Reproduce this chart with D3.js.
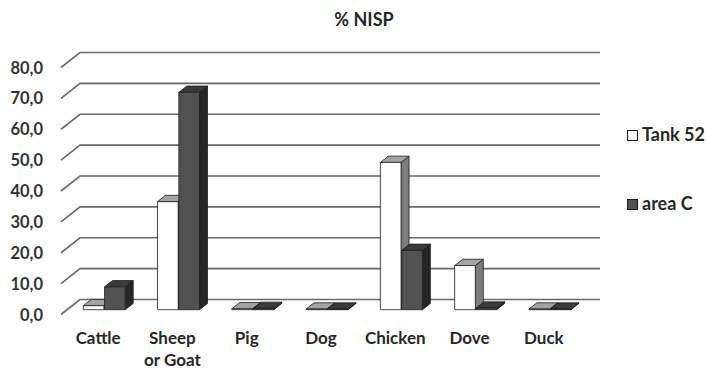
<!DOCTYPE html>
<html>
<head>
<meta charset="utf-8">
<script src="https://cdn.jsdelivr.net/npm/d3@7/dist/d3.min.js"></script>
<style>
  html, body { margin: 0; padding: 0; background: #fff; }
  svg { display: block; font-family: Lato, "Open Sans", sans-serif; font-weight: 700; }
</style>
</head>
<body>
<svg id="chart" width="706" height="374"></svg>
<script>
// Categories and values (% NISP)
const categories = ["Cattle", "Sheep\nor Goat", "Pig", "Dog", "Chicken", "Dove", "Duck"];
const seriesNames = ["Tank 52", "area C"];
const tank52 = [1.3, 35.0, 0.3, 0.2, 47.7, 14.3, 0.2];
const areaC = [7.4, 70.4, 0.4, 0.2, 19.2, 0.5, 0.2];
const yTicks = [0, 10, 20, 30, 40, 50, 60, 70, 80];
const title = "% NISP";

const svg = d3.select("#chart");

// Oblique projection: depth z in [0,1] shifts right and up
const DX = 19, DY = -15;
const x0 = d3.scaleBand().domain(d3.range(categories.length)).range([61, 581])
  .paddingInner(0.435).paddingOuter(0.2175);
const x1 = d3.scaleBand().domain(seriesNames).range([0, 42]).paddingInner(0.03);
const y = d3.scaleLinear().domain([0, 80]).range([314.5, 67.5]);
const project = (x, v, z) => [x + DX * z, y(v) + DY * z];

const fmt = d3.formatLocale({ decimal: ",", thousands: ".", grouping: [3], currency: ["", ""] }).format(".1f");

// Gridlines: left side slant plus back wall line
const grid = svg.append("g");
yTicks.forEach(t => {
  const a = project(61, t, 0), b = project(61, t, 1), c = project(581, t, 1);
  grid.append("polyline")
    .attr("points", [a, b, c].map(p => p.join(",")).join(" "))
    .attr("fill", "none").attr("stroke", "#6a6a6a").attr("stroke-width", 1.6);
});

// Y tick labels
svg.append("g").selectAll("text").data(yTicks).join("text")
  .attr("x", 43).attr("y", d => y(d) + 6)
  .attr("text-anchor", "end").attr("font-size", 16.5).attr("fill", "#333")
  .text(d => fmt(d));

// 3D bars
const styles = {
  "Tank 52": { front: "#ffffff", side: "#7d7d7d", top: "#a3a3a3" },
  "area C": { front: "#525252", side: "#262626", top: "#3a3a3a" }
};
const z0 = 0.32, z1 = 0.74;
const bars = svg.append("g");
const seriesData = { "Tank 52": tank52, "area C": areaC };
categories.forEach((cat, i) => {
  seriesNames.forEach(s => {
    const v = seriesData[s][i];
    const xl = x0(i) + x1(s), xr = xl + x1.bandwidth();
    const st = styles[s];
    const poly = (pts, fill) => bars.append("polygon")
      .attr("points", pts.map(p => p.join(",")).join(" "))
      .attr("fill", fill).attr("stroke", "#1c1c1c").attr("stroke-width", 0.8)
      .attr("stroke-linejoin", "round");
    // right side
    poly([project(xr, 0, z0), project(xr, 0, z1), project(xr, v, z1), project(xr, v, z0)], st.side);
    // top
    poly([project(xl, v, z0), project(xr, v, z0), project(xr, v, z1), project(xl, v, z1)], st.top);
    // front
    poly([project(xl, 0, z0), project(xr, 0, z0), project(xr, v, z0), project(xl, v, z0)], st.front);
  });
});

// Category labels
const labels = svg.append("g").selectAll("text").data(categories).join("text")
  .attr("text-anchor", "middle").attr("font-size", 17).attr("fill", "#262626")
  .attr("x", (d, i) => x0(i) + x0.bandwidth() / 2)
  .attr("y", 344);
labels.each(function(d, i) {
  const el = d3.select(this);
  d.split("\n").forEach((line, k) => {
    el.append("tspan").attr("x", x0(i) + x0.bandwidth() / 2)
      .attr("dy", k === 0 ? 0 : 22).text(line);
  });
});

// Title
svg.append("text").attr("x", 364).attr("y", 26).attr("text-anchor", "middle")
  .attr("font-size", 18).attr("fill", "#262626").text(title);

// Legend
const legendY = { "Tank 52": 130, "area C": 199 };
seriesNames.forEach(s => {
  svg.append("rect").attr("x", 627.5).attr("y", legendY[s] + 0.5).attr("width", 10).attr("height", 10)
    .attr("fill", styles[s].front).attr("stroke", "#1c1c1c").attr("stroke-width", 1);
  svg.append("text").attr("x", 642).attr("y", legendY[s] + 10.5)
    .attr("font-size", 18).attr("fill", "#262626").text(s);
});
</script>
</body>
</html>
